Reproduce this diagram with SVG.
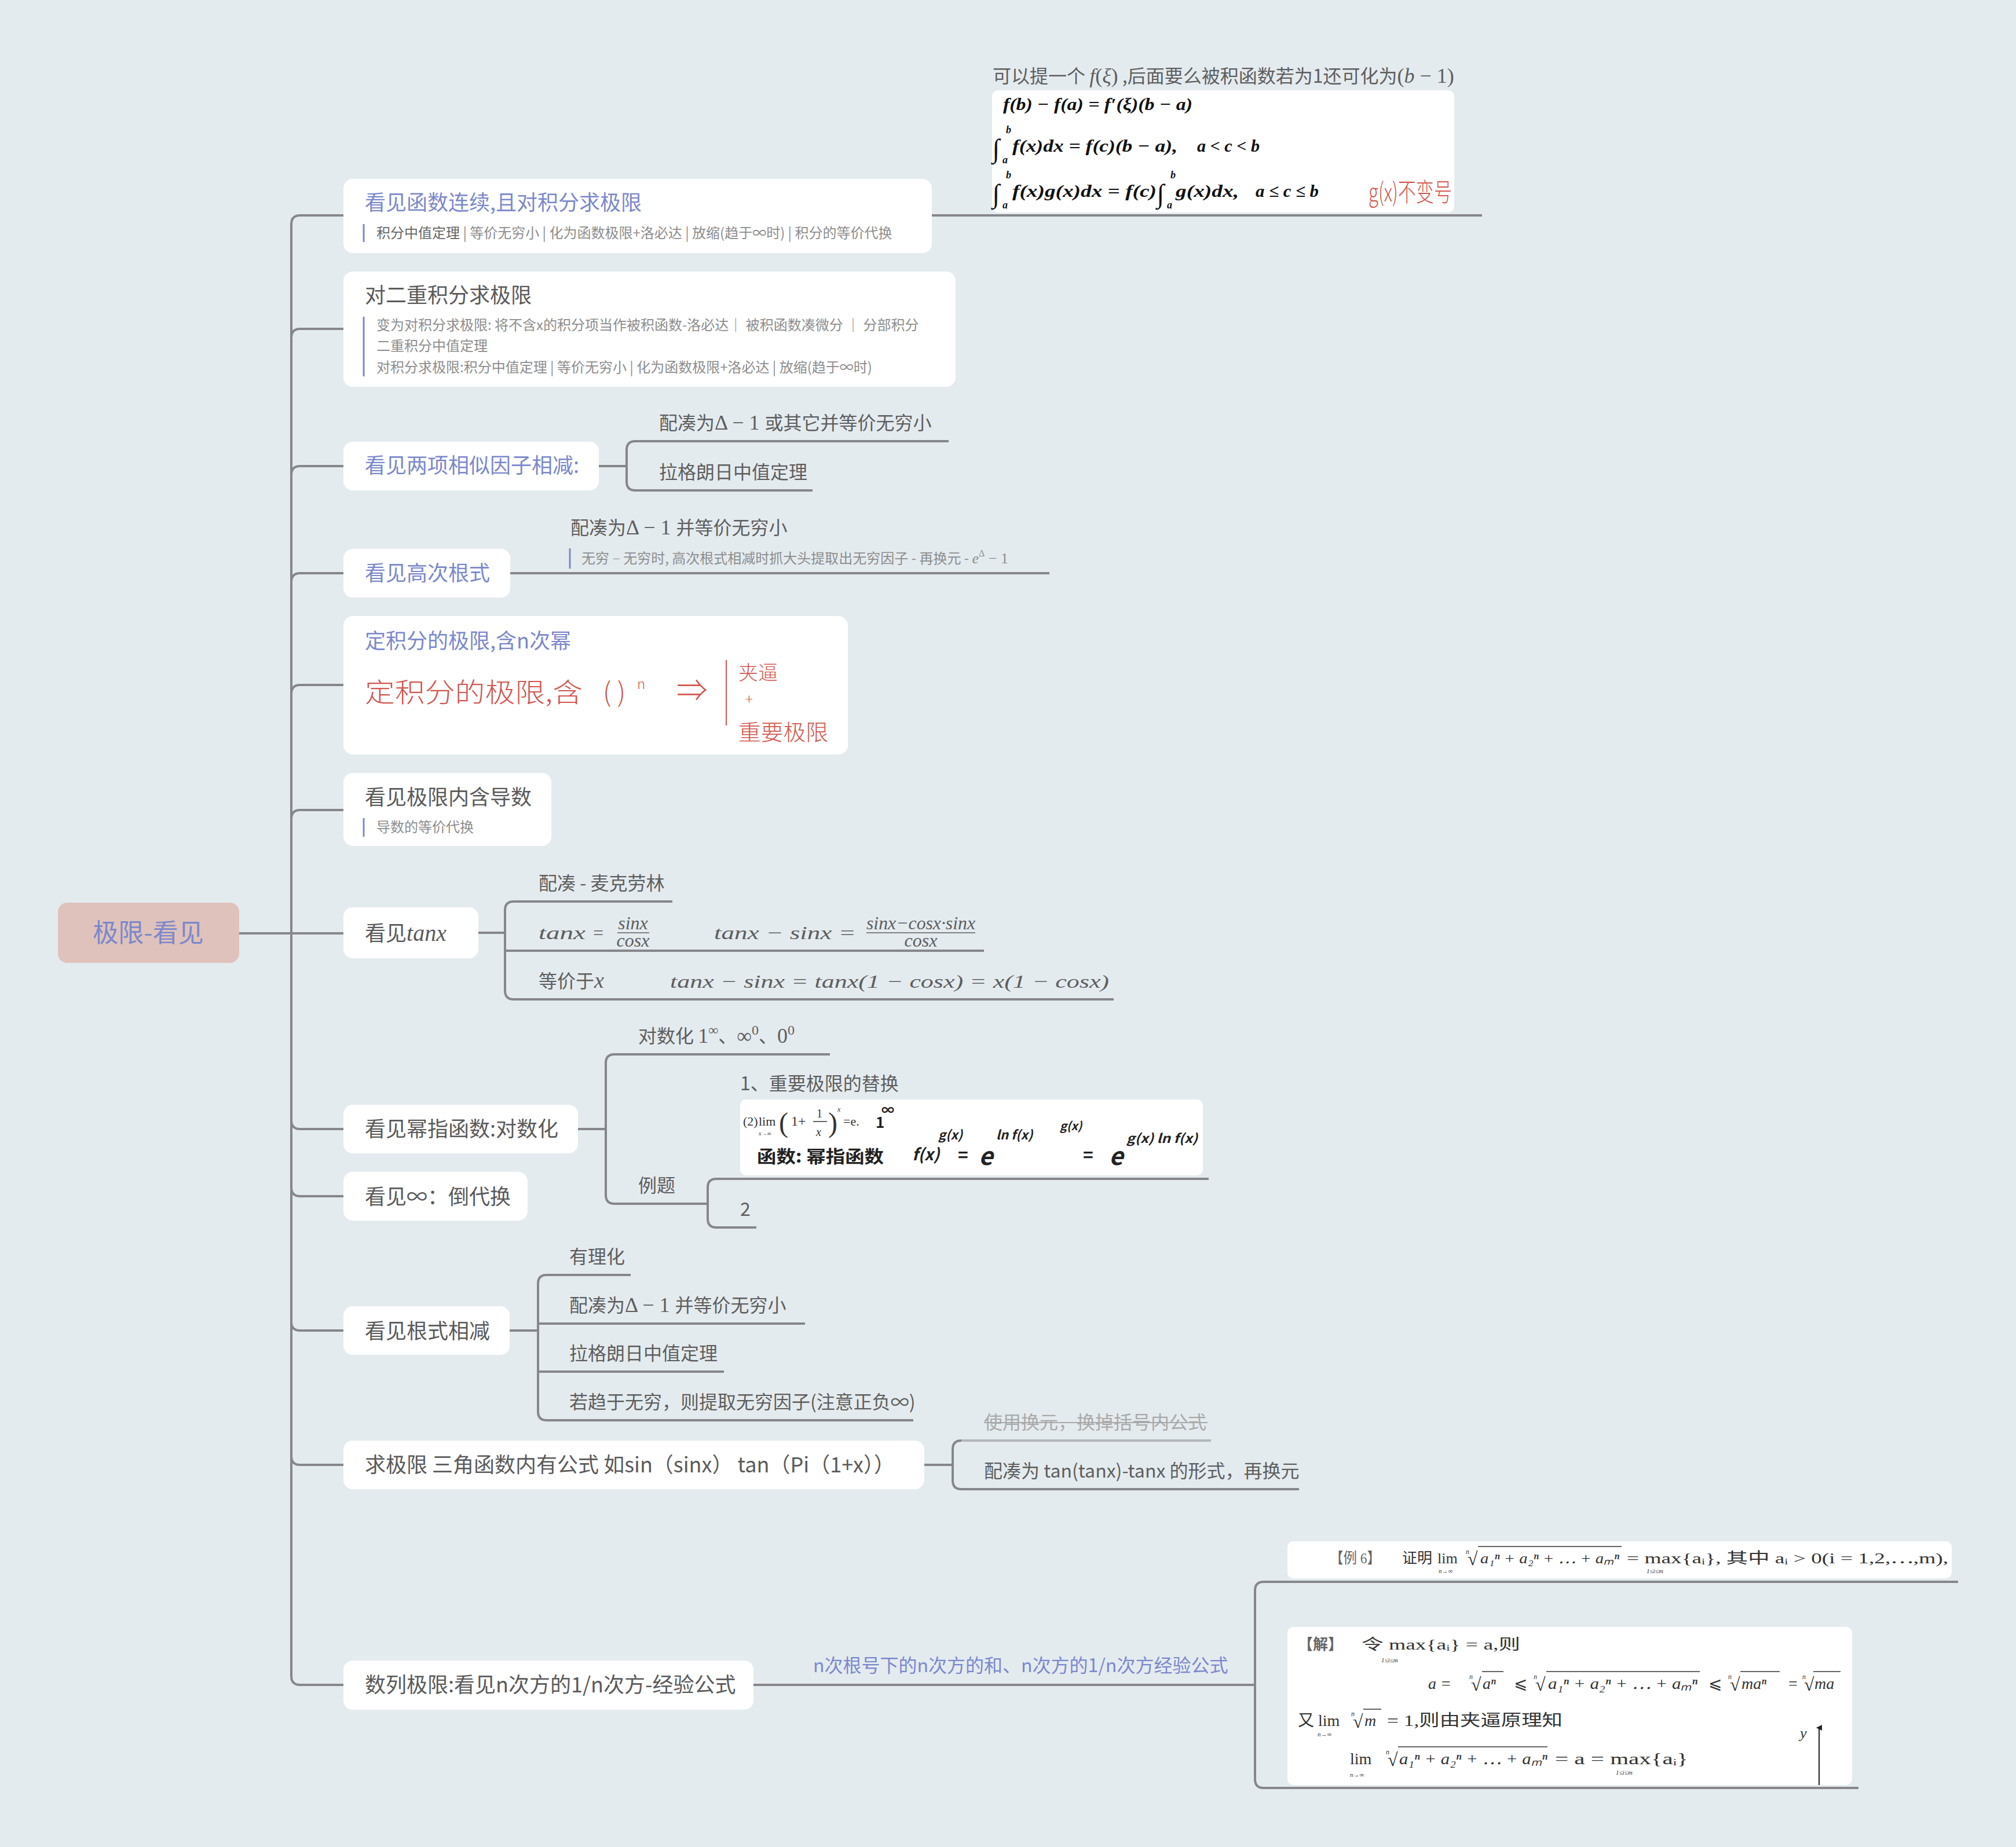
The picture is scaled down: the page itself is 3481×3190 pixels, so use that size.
<svg xmlns="http://www.w3.org/2000/svg" width="3481" height="3190" viewBox="0 0 3481 3190">
<defs>
<style>
.s{font-family:"Noto Sans CJK SC","Noto Sans",sans-serif}
.m{font-family:"Liberation Serif","Noto Sans CJK SC",serif}
.mi{font-family:"Liberation Serif","Noto Sans CJK SC",serif;font-style:italic}
.t{font-size:36px}
.c{font-size:32px;fill:#5e5e5e}
.n{font-size:24px;fill:#8d8d8d}
.blue{fill:#7b88cc}
.gray{fill:#5a5a5a}
.box{fill:#ffffff}
.img{fill:#ffffff}
.ln{stroke:#86868b;stroke-width:4;fill:none}
.lnl{stroke:#b4b7ba;stroke-width:4;fill:none}
.bar{stroke:#7b88cc;stroke-width:3}
.red{fill:#d2564d;font-family:"Noto Sans CJK SC",sans-serif;font-weight:300}
.fb{font-family:"Liberation Serif",serif;font-weight:bold;font-style:italic;fill:#111}
.ex{font-family:"Liberation Serif","Noto Sans CJK SC",serif;fill:#333}
.hw{font-family:"Noto Sans CJK SC",sans-serif;font-weight:bold;fill:#222}
</style>
<marker id="arr" markerWidth="10" markerHeight="10" refX="5" refY="5" orient="auto" markerUnits="userSpaceOnUse">
<path d="M0 10 L5 0 L10 10 Z" fill="#222"/>
</marker>
</defs>
<rect x="0" y="0" width="3481" height="3190" fill="#e4ebef"/>

<g id="connectors">
<path class="ln" d="M413 1612 H503"/>
<path class="ln" d="M503 1612 V387 Q503 372 518 372 H593"/>
<path class="ln" d="M503 1612 V583 Q503 568 518 568 H593"/>
<path class="ln" d="M503 1612 V820 Q503 805 518 805 H593"/>
<path class="ln" d="M503 1612 V1005 Q503 990 518 990 H593"/>
<path class="ln" d="M503 1612 V1198 Q503 1183 518 1183 H593"/>
<path class="ln" d="M503 1612 V1414 Q503 1399 518 1399 H593"/>
<path class="ln" d="M503 1612 H593"/>
<path class="ln" d="M503 1612 V1935 Q503 1950 518 1950 H593"/>
<path class="ln" d="M503 1612 V2051 Q503 2066 518 2066 H593"/>
<path class="ln" d="M503 1612 V2283 Q503 2298 518 2298 H593"/>
<path class="ln" d="M503 1612 V2515 Q503 2530 518 2530 H593"/>
<path class="ln" d="M503 1612 V2895 Q503 2910 518 2910 H593"/>
<path class="ln" d="M1609 372 H2559"/>
<path class="ln" d="M1034 805 H1082"/>
<path class="ln" d="M1638 762 H1097 Q1082 762 1082 777 V832 Q1082 847 1097 847 H1403"/>
<path class="ln" d="M881 990 H1812"/>
<path class="ln" d="M826 1611 H872"/>
<path class="ln" d="M1161 1557 H887 Q872 1557 872 1572 V1711 Q872 1726 887 1726 H1923"/>
<path class="ln" d="M872 1642 H1699"/>
<path class="ln" d="M998 1950 H1046"/>
<path class="ln" d="M1433 1821 H1061 Q1046 1821 1046 1836 V2064 Q1046 2079 1061 2079 H1222"/>
<path class="ln" d="M2087 2036 H1237 Q1222 2036 1222 2051 V2105 Q1222 2120 1237 2120 H1306"/>
<path class="ln" d="M880 2298 H929"/>
<path class="ln" d="M1089 2202 H944 Q929 2202 929 2217 V2438 Q929 2453 944 2453 H1577"/>
<path class="ln" d="M929 2286 H1390"/>
<path class="ln" d="M929 2369 H1250"/>
<path class="ln" d="M1596 2530 H1645"/>
<path class="lnl" d="M2091 2488 H1660"/>
<path class="ln" d="M1660 2488 Q1645 2488 1645 2503 V2557 Q1645 2572 1660 2572 H2243"/>
<path class="ln" d="M1301 2910 H2167"/>
<path class="ln" d="M3381 2732 H2182 Q2167 2732 2167 2747 V3073 Q2167 3088 2182 3088 H3209"/>
</g>

<g id="root">
<rect x="100" y="1559" width="313" height="104" rx="16" fill="#dfc2bb"/>
<text class="s blue" x="256" y="1627" font-size="44" text-anchor="middle">极限-看见</text>
</g>

<g id="node1">
<rect class="box" x="593" y="309" width="1016" height="128" rx="16"/>
<text class="s t blue" x="630" y="363">看见函数连续,且对积分求极限</text>
<line class="bar" x1="628" y1="387" x2="628" y2="418"/>
<text class="s n" x="650" y="411"><tspan fill="#666">积分中值定理</tspan> | 等价无穷小 | 化为函数极限+洛必达 | 放缩(趋于∞时) | 积分的等价代换</text>
</g>
<g id="node1-child">
<text class="s c" x="1714" y="143">可以提一个 <tspan class="mi" font-size="36">f</tspan><tspan class="m" font-size="36">(</tspan><tspan class="mi" font-size="36">ξ</tspan><tspan class="m" font-size="36">)</tspan> ,后面要么被积函数若为1还可化为<tspan class="m" font-size="36">(</tspan><tspan class="mi" font-size="36">b</tspan><tspan class="m" font-size="36"> − 1)</tspan></text>
<rect class="img" x="1713" y="156" width="798" height="211" rx="10"/>
<text class="fb" x="1732" y="190" font-size="30" textLength="327" lengthAdjust="spacingAndGlyphs">f(b) − f(a) = f′(ξ)(b − a)</text>
<text class="fb" x="1713" y="272" font-size="46" font-style="normal">∫</text>
<text class="fb" x="1737" y="230" font-size="18">b</text>
<text class="fb" x="1731" y="282" font-size="18">a</text>
<text class="fb" x="1748" y="262" font-size="30" textLength="285" lengthAdjust="spacingAndGlyphs">f(x)dx = f(c)(b − a),</text>
<text class="fb" x="2067" y="262" font-size="30" textLength="108" lengthAdjust="spacingAndGlyphs">a &lt; c &lt; b</text>
<text class="fb" x="1713" y="350" font-size="46" font-style="normal">∫</text>
<text class="fb" x="1737" y="308" font-size="18">b</text>
<text class="fb" x="1731" y="360" font-size="18">a</text>
<text class="fb" x="1748" y="340" font-size="30" textLength="249" lengthAdjust="spacingAndGlyphs">f(x)g(x)dx = f(c)</text>
<text class="fb" x="1997" y="350" font-size="46" font-style="normal">∫</text>
<text class="fb" x="2021" y="308" font-size="18">b</text>
<text class="fb" x="2015" y="360" font-size="18">a</text>
<text class="fb" x="2030" y="340" font-size="30" textLength="109" lengthAdjust="spacingAndGlyphs">g(x)dx,</text>
<text class="fb" x="2168" y="340" font-size="30" textLength="109" lengthAdjust="spacingAndGlyphs">a ≤ c ≤ b</text>
<text class="red" x="2363" y="348" font-size="44" textLength="144" lengthAdjust="spacingAndGlyphs">g(x)不变号</text>
</g>

<g id="node2">
<rect class="box" x="593" y="469" width="1057" height="199" rx="16"/>
<text class="s t gray" x="630" y="523">对二重积分求极限</text>
<line class="bar" x1="628" y1="547" x2="628" y2="650"/>
<text class="s n" x="650" y="570">变为对积分求极限: 将不含x的积分项当作被积函数-洛必达｜ 被积函数凑微分 ｜ 分部积分</text>
<text class="s n" x="650" y="606">二重积分中值定理</text>
<text class="s n" x="650" y="643">对积分求极限:积分中值定理 | 等价无穷小 | 化为函数极限+洛必达 | 放缩(趋于∞时)</text>
</g>

<g id="node3">
<rect class="box" x="593" y="763" width="441" height="84" rx="16"/>
<text class="s t blue" x="630" y="817">看见两项相似因子相减:</text>
</g>
<g id="node3-children">
<text class="s c" x="1138" y="742">配凑为<tspan class="m" font-size="36">Δ − 1 </tspan>或其它并等价无穷小</text>
<text class="s c" x="1138" y="827">拉格朗日中值定理</text>
</g>

<g id="node4">
<rect class="box" x="593" y="948" width="288" height="84" rx="16"/>
<text class="s t blue" x="630" y="1003">看见高次根式</text>
</g>
<g id="node4-child">
<text class="s c" x="985" y="923">配凑为<tspan class="m" font-size="36">Δ − 1 </tspan>并等价无穷小</text>
<line class="bar" x1="984" y1="947" x2="984" y2="982"/>
<text class="s n" x="1004" y="973">无穷 <tspan class="m">−</tspan> 无穷时, 高次根式相减时抓大头提取出无穷因子 - 再换元 - <tspan class="mi" font-size="26">e</tspan><tspan class="m" font-size="16" dy="-12">Δ</tspan><tspan class="m" font-size="26" dy="12"> − 1</tspan></text>
</g>

<g id="node5">
<rect class="box" x="593" y="1064" width="871" height="239" rx="16"/>
<text class="s t blue" x="630" y="1120">定积分的极限,含n次幂</text>
<text class="red" x="630" y="1212" font-size="46" textLength="376" lengthAdjust="spacingAndGlyphs">定积分的极限,含</text>
<text class="red" x="1041" y="1212" font-size="46">(  )</text>
<text class="red" x="1100" y="1190" font-size="24">n</text>
<text class="red" x="1168" y="1212" font-size="54">⇒</text>
<line x1="1254" y1="1140" x2="1254" y2="1253" stroke="#d2564d" stroke-width="2"/>
<text class="red" x="1275" y="1174" font-size="34">夹逼</text>
<text class="red" x="1287" y="1216" font-size="24">+</text>
<text class="red" x="1275" y="1278" font-size="38" textLength="155" lengthAdjust="spacingAndGlyphs">重要极限</text>
</g>

<g id="node6">
<rect class="box" x="593" y="1335" width="359" height="126" rx="16"/>
<text class="s t gray" x="630" y="1390">看见极限内含导数</text>
<line class="bar" x1="628" y1="1413" x2="628" y2="1445"/>
<text class="s n" x="650" y="1437">导数的等价代换</text>
</g>

<g id="node7">
<rect class="box" x="593" y="1567" width="233" height="88" rx="16"/>
<text class="s t gray" x="630" y="1625">看见<tspan class="mi" font-size="40">tanx</tspan></text>
</g>
<g id="node7-children">
<text class="s c" x="930" y="1537">配凑 - 麦克劳林</text>
<text class="mi c" x="930" y="1622" font-size="38" textLength="81" lengthAdjust="spacingAndGlyphs">tanx</text>
<text class="m c" x="1024" y="1622" font-size="38">=</text>
<text class="mi c" x="1093" y="1605" font-size="22" text-anchor="middle">sinx</text>
<line x1="1066" y1="1611" x2="1121" y2="1611" stroke="#5e5e5e" stroke-width="1.5"/>
<text class="mi c" x="1093" y="1635" font-size="22" text-anchor="middle">cosx</text>
<text class="mi c" x="1233" y="1622" font-size="38" textLength="245" lengthAdjust="spacingAndGlyphs">tanx − sinx =</text>
<text class="mi c" x="1590" y="1605" font-size="22" text-anchor="middle" textLength="188" lengthAdjust="spacingAndGlyphs">sinx−cosx·sinx</text>
<line x1="1496" y1="1611" x2="1684" y2="1611" stroke="#5e5e5e" stroke-width="1.5"/>
<text class="mi c" x="1590" y="1635" font-size="22" text-anchor="middle">cosx</text>
<text class="s c" x="930" y="1706">等价于<tspan class="mi" font-size="38">x</tspan></text>
<text class="mi c" x="1157" y="1706" font-size="38" textLength="758" lengthAdjust="spacingAndGlyphs">tanx − sinx = tanx(1 − cosx) = x(1 − cosx)</text>
</g>

<g id="node8">
<rect class="box" x="593" y="1908" width="405" height="84" rx="16"/>
<text class="s t gray" x="630" y="1963">看见幂指函数:对数化</text>
</g>
<g id="node8-children">
<text class="s c" x="1102" y="1801">对数化 <tspan class="m" font-size="36">1</tspan><tspan class="m" font-size="24" dy="-14">∞</tspan><tspan dy="14">、</tspan><tspan class="m" font-size="36">∞</tspan><tspan class="m" font-size="24" dy="-14">0</tspan><tspan dy="14">、</tspan><tspan class="m" font-size="36">0</tspan><tspan class="m" font-size="24" dy="-14">0</tspan></text>
<text class="s c" x="1102" y="2059">例题</text>
</g>
<g id="node8-example1">
<text class="s c" x="1278" y="1883">1、重要极限的替换</text>
<rect class="img" x="1278" y="1899" width="799" height="131" rx="10"/>
<text class="ex" x="1283" y="1944" font-size="22">(2)</text>
<text class="ex" x="1310" y="1944" font-size="22">lim</text>
<text class="ex" x="1310" y="1961" font-size="10" font-style="italic">x→∞</text>
<text class="ex" x="1345" y="1955" font-size="48" font-weight="300">(</text>
<text class="ex" x="1366" y="1944" font-size="24">1+</text>
<text class="ex" x="1410" y="1930" font-size="20">1</text>
<line x1="1404" y1="1937" x2="1428" y2="1937" stroke="#333" stroke-width="1.5"/>
<text class="ex" x="1409" y="1962" font-size="20" font-style="italic">x</text>
<text class="ex" x="1430" y="1955" font-size="48" font-weight="300">)</text>
<text class="ex" x="1446" y="1920" font-size="12" font-style="italic">x</text>
<text class="ex" x="1456" y="1944" font-size="22">=e.</text>
<text class="hw" x="1512" y="1948" font-size="26" font-weight="normal">1</text>
<text class="hw" x="1522" y="1925" font-size="22">∞</text>
<text class="hw" x="1307" y="2008" font-size="30" textLength="219" lengthAdjust="spacingAndGlyphs">函数: 幂指函数</text>
<text class="hw" x="1575" y="2004" font-size="28" font-style="italic">f(x)</text>
<text class="hw" x="1620" y="1968" font-size="22" font-style="italic">g(x)</text>
<text class="hw" x="1654" y="2006" font-size="30">=</text>
<text class="hw" x="1690" y="2012" font-size="42" font-weight="normal" font-style="italic">e</text>
<text class="hw" x="1720" y="1968" font-size="22" font-style="italic">ln f(x)</text>
<text class="hw" x="1830" y="1952" font-size="20" font-style="italic">g(x)</text>
<text class="hw" x="1870" y="2006" font-size="30">=</text>
<text class="hw" x="1915" y="2012" font-size="42" font-weight="normal" font-style="italic">e</text>
<text class="hw" x="1945" y="1974" font-size="22" font-style="italic" textLength="123" lengthAdjust="spacingAndGlyphs">g(x) ln f(x)</text>
</g>
<g id="node8-example2">
<text class="s c" x="1278" y="2100">2</text>
</g>

<g id="node9">
<rect class="box" x="593" y="2024" width="318" height="84" rx="16"/>
<text class="s t gray" x="630" y="2080">看见∞：倒代换</text>
</g>

<g id="node10">
<rect class="box" x="593" y="2256" width="287" height="84" rx="16"/>
<text class="s t gray" x="630" y="2312">看见根式相减</text>
</g>
<g id="node10-children">
<text class="s c" x="983" y="2182">有理化</text>
<text class="s c" x="983" y="2266">配凑为<tspan class="m" font-size="36">Δ − 1 </tspan>并等价无穷小</text>
<text class="s c" x="983" y="2349">拉格朗日中值定理</text>
<text class="s c" x="983" y="2433">若趋于无穷，则提取无穷因子(注意正负∞)</text>
</g>

<g id="node11">
<rect class="box" x="593" y="2488" width="1003" height="84" rx="16"/>
<text class="s t gray" x="630" y="2543">求极限 三角函数内有公式 如sin（sinx） tan（Pi（1+x））</text>
</g>
<g id="node11-children">
<text class="s c" x="1699" y="2468" style="fill:#a9a9a9">使用换元，换掉括号内公式</text>
<line x1="1699" y1="2457" x2="2085" y2="2457" stroke="#a9a9a9" stroke-width="2"/>
<text class="s c" x="1699" y="2552">配凑为 tan(tanx)-tanx 的形式，再换元</text>
</g>

<g id="node12">
<rect class="box" x="593" y="2868" width="708" height="85" rx="16"/>
<text class="s t gray" x="630" y="2923">数列极限:看见n次方的1/n次方-经验公式</text>
</g>
<g id="node12-child">
<text class="s c" x="1404" y="2888" style="fill:#7b88cc">n次根号下的n次方的和、n次方的1/n次方经验公式</text>
</g>
<g id="node12-example">
<rect class="img" x="2223" y="2662" width="1147" height="64" rx="10"/>
<text class="ex" x="2296" y="2700" font-size="26" style="fill:#666" textLength="88" lengthAdjust="spacingAndGlyphs">【例 6】</text>
<text class="ex" x="2421" y="2700" font-size="26">证明</text>
<text class="ex" x="2482" y="2700" font-size="26">lim</text>
<text class="ex" x="2484" y="2717" font-size="11" font-style="italic">n→∞</text>
<text class="ex" x="2531" y="2684" font-size="12" font-style="italic">n</text>
<text class="ex" x="2534" y="2703" font-size="32">√</text>
<line x1="2552" y1="2671" x2="2800" y2="2671" stroke="#333" stroke-width="1.5"/>
<text class="ex" x="2556" y="2700" font-size="26" font-style="italic" textLength="240" lengthAdjust="spacingAndGlyphs">a₁ⁿ + a₂ⁿ + ⋯ + aₘⁿ</text>
<text class="ex" x="2809" y="2700" font-size="26" textLength="555" lengthAdjust="spacingAndGlyphs">= max{aᵢ}, 其中 aᵢ &gt; 0(i = 1,2,⋯,m),</text>
<text class="ex" x="2843" y="2717" font-size="11" font-style="italic">1≤i≤m</text>
</g>
<g id="node12-solution">
<rect class="img" x="2223" y="2810" width="975" height="273" rx="10"/>
<text class="ex" x="2241" y="2849" font-size="26" style="fill:#666" font-weight="bold">【解】</text>
<text class="ex" x="2351" y="2849" font-size="26" textLength="274" lengthAdjust="spacingAndGlyphs">令 max{aᵢ} = a,则</text>
<text class="ex" x="2385" y="2871" font-size="11" font-style="italic">1≤i≤m</text>
<text class="ex" x="2466" y="2917" font-size="28" font-style="italic">a =</text>
<text class="ex" x="2537" y="2900" font-size="12" font-style="italic">n</text>
<text class="ex" x="2540" y="2920" font-size="32">√</text>
<line x1="2559" y1="2887" x2="2596" y2="2887" stroke="#333" stroke-width="1.5"/>
<text class="ex" x="2560" y="2917" font-size="28" font-style="italic">aⁿ</text>
<text class="ex" x="2614" y="2917" font-size="28">⩽</text>
<text class="ex" x="2648" y="2900" font-size="12" font-style="italic">n</text>
<text class="ex" x="2651" y="2920" font-size="32">√</text>
<line x1="2670" y1="2887" x2="2935" y2="2887" stroke="#333" stroke-width="1.5"/>
<text class="ex" x="2673" y="2917" font-size="28" font-style="italic" textLength="258" lengthAdjust="spacingAndGlyphs">a₁ⁿ + a₂ⁿ + ⋯ + aₘⁿ</text>
<text class="ex" x="2950" y="2917" font-size="28">⩽</text>
<text class="ex" x="2984" y="2900" font-size="12" font-style="italic">n</text>
<text class="ex" x="2987" y="2920" font-size="32">√</text>
<line x1="3005" y1="2887" x2="3073" y2="2887" stroke="#333" stroke-width="1.5"/>
<text class="ex" x="3007" y="2917" font-size="28" font-style="italic">maⁿ</text>
<text class="ex" x="3088" y="2917" font-size="28">=</text>
<text class="ex" x="3112" y="2900" font-size="12" font-style="italic">n</text>
<text class="ex" x="3115" y="2920" font-size="32">√</text>
<line x1="3131" y1="2887" x2="3178" y2="2887" stroke="#333" stroke-width="1.5"/>
<text class="ex" x="3133" y="2917" font-size="28" font-style="italic">ma</text>
<text class="ex" x="2241" y="2981" font-size="28">又 lim</text>
<text class="ex" x="2275" y="2999" font-size="11" font-style="italic">n→∞</text>
<text class="ex" x="2333" y="2964" font-size="12" font-style="italic">n</text>
<text class="ex" x="2336" y="2984" font-size="32">√</text>
<line x1="2354" y1="2952" x2="2385" y2="2952" stroke="#333" stroke-width="1.5"/>
<text class="ex" x="2356" y="2981" font-size="28" font-style="italic">m</text>
<text class="ex" x="2395" y="2981" font-size="28" textLength="303" lengthAdjust="spacingAndGlyphs">= 1,则由夹逼原理知</text>
<text class="ex" x="2331" y="3047" font-size="28">lim</text>
<text class="ex" x="2331" y="3069" font-size="11" font-style="italic">n→∞</text>
<text class="ex" x="2393" y="3030" font-size="12" font-style="italic">n</text>
<text class="ex" x="2396" y="3050" font-size="32">√</text>
<line x1="2414" y1="3017" x2="2672" y2="3017" stroke="#333" stroke-width="1.5"/>
<text class="ex" x="2416" y="3047" font-size="28" font-style="italic" textLength="256" lengthAdjust="spacingAndGlyphs">a₁ⁿ + a₂ⁿ + ⋯ + aₘⁿ</text>
<text class="ex" x="2685" y="3047" font-size="28" textLength="230" lengthAdjust="spacingAndGlyphs">= a = max{aᵢ}</text>
<text class="ex" x="2790" y="3065" font-size="11" font-style="italic">1≤i≤m</text>
<text class="ex" x="3108" y="3002" font-size="26" font-style="italic">y</text>
<line x1="3141" y1="3083" x2="3141" y2="2984" stroke="#222" stroke-width="2" marker-end="url(#arr)"/>
</g>
</svg>
